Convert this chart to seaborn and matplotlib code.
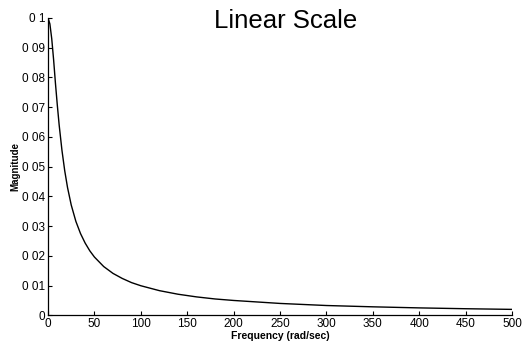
import matplotlib
matplotlib.use('Agg')
import matplotlib.pyplot as plt
import seaborn as sns
import pandas as pd

# values
freq = [0, 2, 4, 6, 8, 10, 12, 15, 18, 21, 25, 30, 35, 40, 45, 50, 60, 70, 80, 90,
        100, 120, 140, 160, 180, 200, 250, 300, 350, 400, 450, 500]
magnitude = [0.1, 0.098, 0.093, 0.086, 0.078, 0.0707, 0.064, 0.0555, 0.0486, 0.043,
             0.0371, 0.0316, 0.0275, 0.0243, 0.0217, 0.0196, 0.0164, 0.0141, 0.0124, 0.011,
             0.00995, 0.0083, 0.0071, 0.0062, 0.0055, 0.005, 0.004, 0.0033, 0.00286, 0.0025,
             0.00222, 0.002]

x_ticks = [0, 50, 100, 150, 200, 250, 300, 350, 400, 450, 500]
y_ticks = [0, 0.01, 0.02, 0.03, 0.04, 0.05, 0.06, 0.07, 0.08, 0.09, 0.1]
y_tick_labels = ['0', '0 01', '0 02', '0 03', '0 04', '0 05', '0 06', '0 07', '0 08', '0 09', '0 1']

df = pd.DataFrame({'freq': freq, 'mag': magnitude})

sns.set_style('ticks')
plt.rcParams['font.family'] = ['Liberation Sans', 'DejaVu Sans']

fig = plt.figure(figsize=(5.22, 3.45), dpi=100)
ax = fig.add_axes([0.092, 0.086, 0.889, 0.862])
sns.lineplot(data=df, x='freq', y='mag', color='black', linewidth=1.0, ax=ax)

ax.set_xlim(0, 500)
ax.set_ylim(0, 0.1)
ax.set_xticks(x_ticks)
ax.set_xticklabels([str(t) for t in x_ticks], fontsize=8.5)
ax.set_yticks(y_ticks)
ax.set_yticklabels(y_tick_labels, fontsize=8.5)
ax.tick_params(direction='in', length=3, width=0.8, pad=2, colors='black')
for s in ['top', 'right']:
    ax.spines[s].set_visible(False)
for s in ['left', 'bottom']:
    ax.spines[s].set_linewidth(0.9)
    ax.spines[s].set_color('black')

ax.set_xlabel('Frequency (rad/sec)', fontsize=7.5, fontweight='bold', labelpad=0.5, color='black')
ax.set_ylabel('Magnitude', fontsize=7, fontweight='bold', labelpad=1, color='black')
fig.text(0.548, 0.94, 'Linear Scale', fontsize=18.5, ha='center', va='center', color='black')

fig.savefig('out.png', dpi=100)
